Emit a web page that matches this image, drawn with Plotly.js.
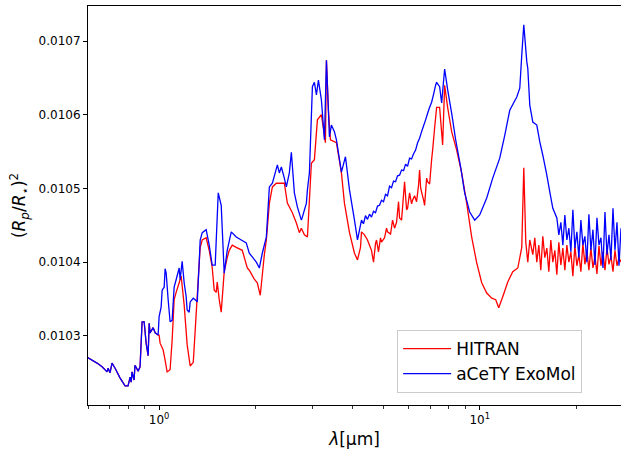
<!DOCTYPE html>
<html>
<head>
<meta charset="utf-8">
<script src="https://cdn.plot.ly/plotly-3.0.1.min.js"></script>
<style>html,body{margin:0;padding:0;background:#fff;}#chart{width:621px;height:455px;}</style>
</head>
<body>
<div id="chart"></div>
<script>
// Wavelength (micron) and transit depth (Rp/Rs)^2
const lamExoMol = [0.596,0.640,0.664,0.688,0.693,0.703,0.713,0.729,0.755,0.783,0.800,0.812,0.818,0.823,0.835,0.841,0.860,0.872,0.885,0.898,0.911,0.924,0.931,0.937,0.958,0.972,0.993,
1.000,1.0145,1.022,1.037,1.044,1.052,1.067,1.082,1.098,1.114,1.130,1.155,1.163,1.180,1.197,1.2145,1.223,1.241,1.250,1.278,1.296,1.315,1.3335,1.343,1.363,1.402,1.433,1.464,1.496,1.529,1.562,1.596,1.631,1.679,1.740,1.804,1.870,1.911,1.953,2.010,2.054,2.098,2.160,
2.2075,2.256,2.338,2.371,2.406,2.458,2.494,2.548,2.585,2.642,2.699,2.778,2.798,2.880,2.901,2.943,3.007,3.0505,3.095,3.140,3.208,3.278,3.326,3.398,3.447,3.522,3.5735,3.704,3.813,3.925,4.068,4.157,
4.2785,4.3402,4.4029,4.4668,4.5316,4.5973,4.6639,4.7315,4.8000,4.8697,4.9400,5.0119,5.0845,5.1582,5.2330,5.3088,5.3857,5.4639,5.5430,5.6234,5.7048,5.7876,5.8714,5.9566,6.0430,6.1306,6.2194,6.3096,6.4011,6.4938,6.5879,6.6834,6.7803,6.8794,6.9791,7.0795,7.1821,7.2862,7.3386,
7.499,7.608,7.7735,7.943,8.175,8.414,8.722,8.977,9.306,9.647,10.0,
10.517,10.981,11.548,11.971,12.409,13.050,13.335,13.528,13.725,14.024,14.125,14.330,14.643,15.070,15.399,15.735,16.195,16.548,16.909,
17.403,17.655,17.911,18.171,18.434,18.703,18.974,19.249,19.527,19.811,20.097,20.389,20.684,20.983,21.288,21.596,21.909,22.227,22.556,22.883,23.214,23.551,23.892,24.238,24.590,24.946,25.307,25.674,26.046,26.423,26.806,27.194,27.588];
const depthExoMol = [0.010271,0.010263,0.010258,0.010251,0.010256,0.010250,0.010263,0.010256,0.010243,0.010232,0.010232,0.010244,0.010237,0.010251,0.010240,0.010260,0.010252,0.010258,0.010319,0.010319,0.010290,0.010273,0.010317,0.010304,0.010311,0.010304,0.010301,
0.010326,0.010339,0.010362,0.010366,0.010391,0.010385,0.010349,0.010319,0.010321,0.010366,0.010376,0.010392,0.010376,0.010401,0.010372,0.010353,0.010335,0.010332,0.010346,0.010351,0.010349,0.010346,0.010399,0.010430,0.010440,0.010444,0.010423,0.010396,0.010396,0.010494,0.010477,0.010385,0.010416,0.010441,0.010434,0.010430,0.010426,0.010412,0.010407,0.010400,0.010392,0.010412,0.010434,
0.010502,0.010507,0.010532,0.010521,0.010529,0.010514,0.010502,0.010521,0.010549,0.010494,0.010475,0.010457,0.010461,0.010480,0.010498,0.010521,0.010638,0.010644,0.010627,0.010647,0.010620,0.010566,0.010674,0.010570,0.010586,0.010577,0.010566,0.010522,0.010543,0.010498,0.010457,0.010430,
0.010457,0.010452,0.010463,0.010458,0.010465,0.010461,0.010469,0.010467,0.010476,0.010477,0.010484,0.010482,0.010492,0.010490,0.010503,0.010501,0.010510,0.010509,0.010517,0.010518,0.010525,0.010524,0.010533,0.010530,0.010541,0.010540,0.010547,0.010552,0.010562,0.010568,0.010577,0.010585,0.010593,0.010602,0.010610,0.010617,0.010628,0.010640,0.010644,
0.010638,0.010616,0.010662,0.010634,0.010602,0.010566,0.010529,0.010494,0.010468,0.010457,0.010464,
0.010487,0.010514,0.010541,0.010572,0.010606,0.010624,0.010636,0.010681,0.010722,0.010672,0.010663,0.010613,0.010590,0.010586,0.010563,0.010545,0.010518,0.010495,0.010473,
0.010460,0.010437,0.010454,0.010423,0.010464,0.010430,0.010446,0.010414,0.010471,0.010419,0.010441,0.010406,0.010457,0.010423,0.010435,0.010400,0.010465,0.010416,0.010444,0.010396,0.010460,0.010423,0.010433,0.010392,0.010468,0.010410,0.010437,0.010403,0.010473,0.010416,0.010454,0.010395,0.010446];

const lamHitran = [0.596,0.640,0.664,0.688,0.693,0.703,0.713,0.729,0.755,0.783,0.800,0.812,0.818,0.823,0.835,0.841,0.860,0.872,0.885,0.898,0.911,0.924,0.931,0.937,0.958,0.972,0.993,
1.000,1.007,1.029,1.044,1.059,1.082,1.098,1.114,1.130,1.155,1.1715,1.197,1.223,1.250,1.278,1.296,1.324,1.343,1.363,1.402,1.433,1.464,1.4855,1.507,1.518,1.540,1.562,1.596,1.631,1.655,1.691,1.740,1.817,1.884,1.911,1.981,2.024,2.068,2.129,2.160,
2.2075,2.256,2.321,2.371,2.458,2.512,2.604,2.680,2.738,2.778,2.839,2.901,2.943,2.985,3.0505,3.117,3.208,3.302,3.326,3.374,3.423,3.5735,3.704,3.785,3.925,
4.0685,4.1570,4.2477,4.2785,4.3718,4.4668,4.5316,4.5973,4.6639,4.7315,4.7656,4.8345,4.9045,4.9400,5.0480,5.1213,5.1582,5.2710,5.3472,5.4245,5.5034,5.5830,5.6234,5.7048,5.8295,5.9139,5.9566,6.0430,6.1306,6.1748,6.2643,6.3551,6.4472,6.4938,6.5407,6.5879,6.6834,6.7317,6.8300,6.8794,6.9791,7.0795,7.1306,7.2339,7.3386,
7.499,7.6625,7.7735,7.943,8.175,8.475,8.785,9.107,9.441,9.787,
10.145,10.517,10.902,11.220,11.465,11.800,12.233,12.679,13.149,13.528,13.725,13.924,14.125,14.330,
14.643,14.855,15.070,15.289,15.510,15.735,15.963,16.195,16.430,16.668,16.909,17.154,17.403,17.655,17.911,18.171,18.434,18.703,18.974,19.249,19.527,19.811,20.097,20.389,20.684,20.983,21.288,21.596,21.909,22.227,22.556,22.883,23.214,23.551,23.892,24.238,24.590,24.946,25.307,25.674,26.046,26.423,26.806,27.194,27.588];
const depthHitran = [0.010271,0.010263,0.010258,0.010251,0.010256,0.010250,0.010263,0.010256,0.010243,0.010232,0.010232,0.010244,0.010237,0.010251,0.010240,0.010260,0.010252,0.010258,0.010319,0.010319,0.010290,0.010273,0.010317,0.010304,0.010311,0.010304,0.010301,
0.010301,0.010290,0.010281,0.010267,0.010251,0.010254,0.010294,0.010349,0.010359,0.010372,0.010381,0.010342,0.010288,0.010259,0.010264,0.010308,0.010376,0.010420,0.010430,0.010433,0.010416,0.010393,0.010362,0.010359,0.010373,0.010349,0.010332,0.010387,0.010406,0.010416,0.010423,0.010420,0.010416,0.010392,0.010389,0.010377,0.010372,0.010355,0.010410,0.010430,
0.010480,0.010502,0.010507,0.010507,0.010507,0.010480,0.010467,0.010453,0.010440,0.010446,0.010437,0.010434,0.010484,0.010534,0.010539,0.010593,0.010600,0.010562,0.010674,0.010606,0.010566,0.010562,0.010521,0.010480,0.010440,
0.010412,0.010403,0.010420,0.010441,0.010437,0.010430,0.010423,0.010416,0.010400,0.010425,0.010430,0.010414,0.010433,0.010427,0.010433,0.010446,0.010441,0.010438,0.010457,0.010446,0.010454,0.010482,0.010460,0.010457,0.010509,0.010471,0.010473,0.010494,0.010479,0.010484,0.010490,0.010482,0.010505,0.010525,0.010501,0.010495,0.010484,0.010477,0.010514,0.010509,0.010506,0.010539,0.010552,0.010582,0.010610,
0.010610,0.010559,0.010640,0.010610,0.010577,0.010552,0.010521,0.010480,0.010434,0.010399,
0.010372,0.010358,0.010351,0.010349,0.010338,0.010353,0.010373,0.010387,0.010392,0.010420,0.010528,0.010427,0.010400,0.010430,
0.010410,0.010433,0.010400,0.010423,0.010389,0.010435,0.010406,0.010419,0.010387,0.010430,0.010400,0.010416,0.010383,0.010427,0.010396,0.010419,0.010389,0.010423,0.010400,0.010414,0.010381,0.010422,0.010395,0.010410,0.010387,0.010425,0.010397,0.010416,0.010389,0.010419,0.010392,0.010408,0.010384,0.010422,0.010395,0.010414,0.010389,0.010419,0.010397,0.010408,0.010387,0.010416,0.010395,0.010406,0.010400];

const seriesNames = ["HITRAN", "aCeTY ExoMol"];
const majorTicks = [1, 10];
const majorTickText = ["10<sup>0</sup>", "10<sup>1</sup>"];
const minorTicks = [0.6,0.7,0.8,0.9,2,3,4,5,6,7,8,9,20];

const font = "DejaVu Sans, sans-serif";
const traces = [
  {x: lamHitran, y: depthHitran, type: "scatter", mode: "lines", name: seriesNames[0],
   line: {color: "#ff0000", width: 1.3, simplify: false}},
  {x: lamExoMol, y: depthExoMol, type: "scatter", mode: "lines", name: seriesNames[1],
   line: {color: "#0000ff", width: 1.3, simplify: false}}
];
const layout = {
  width: 621, height: 455,
  margin: {l: 88, r: 0, t: 6, b: 50},
  paper_bgcolor: "#fff", plot_bgcolor: "#fff",
  font: {family: font, color: "#000", size: 12},
  showlegend: true,
  legend: {x: 0.58, y: 0.03, xanchor: "left", yanchor: "bottom", itemwidth: 48,
    bgcolor: "rgba(255,255,255,0.8)", bordercolor: "#cccccc", borderwidth: 1,
    font: {family: font, size: 17, color: "#000"}},
  xaxis: {type: "log", range: [Math.log10(0.6), Math.log10(27.59)],
    showgrid: false, zeroline: false, showline: true, linecolor: "#000", linewidth: 1, mirror: true,
    ticks: "outside", ticklen: 4, tickwidth: 1, tickcolor: "#000",
    tickmode: "array", tickvals: majorTicks, ticktext: majorTickText,
    tickfont: {family: font, size: 12, color: "#000"},
    minor: {tickmode: "array", tickvals: minorTicks, ticks: "outside", ticklen: 2.5, tickwidth: 0.8, tickcolor: "#000"},
    title: {text: "<i>λ</i>[μm]", font: {family: font, size: 17, color: "#000"}, standoff: 6}},
  yaxis: {range: [0.0102061, 0.0107475],
    showgrid: false, zeroline: false, showline: true, linecolor: "#000", linewidth: 1, mirror: false,
    ticks: "outside", ticklen: 4, tickwidth: 1, tickcolor: "#000",
    tickmode: "linear", tick0: 0.0103, dtick: 0.0001, tickformat: ".4f",
    tickfont: {family: font, size: 12, color: "#000"},
    title: {text: "(<i>R</i><sub><i>p</i></sub>/<i>R</i><sub>⋆</sub>)<sup>2</sup>", font: {family: font, size: 17, color: "#000"}, standoff: 8}}
};
Plotly.newPlot("chart", traces, layout, {staticPlot: true, displayModeBar: false});
</script>
</body>
</html>
